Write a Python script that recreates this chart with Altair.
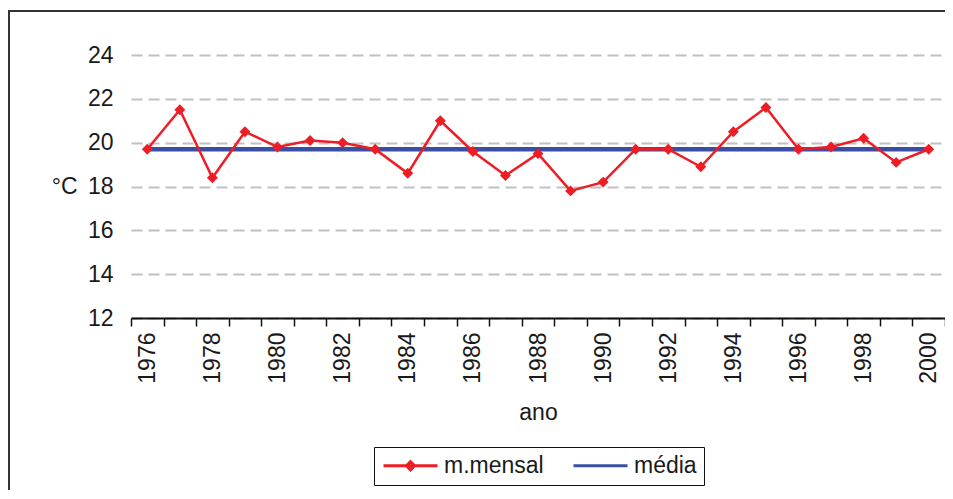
import altair as alt
import pandas as pd

anos = list(range(1976, 2001))
m_mensal = [19.7, 21.5, 18.4, 20.5, 19.8, 20.1, 20.0, 19.7, 18.6, 21.0,
            19.6, 18.5, 19.5, 17.8, 18.2, 19.7, 19.7, 18.9, 20.5, 21.6,
            19.7, 19.8, 20.2, 19.1, 19.7]
media = 19.7
series = ["m.mensal", "média"]
y_ticks = [12, 14, 16, 18, 20, 22, 24]

df_m = pd.DataFrame({"ano": anos, "valor": m_mensal, "serie": "m.mensal"})
df_a = pd.DataFrame({"ano": anos, "valor": [media] * len(anos), "serie": "média"})
df_leg = pd.DataFrame({"serie": series})

RED = "#ee1c25"
BLUE = "#3a4fa3"
FONT = "Liberation Sans"
TXT = "#1a1a1a"

W, H = 814, 263

x_enc = alt.X(
    "ano:O",
    scale=alt.Scale(type="band", paddingInner=0, paddingOuter=0, domain=anos),
    axis=alt.Axis(
        title="ano",
        labelAngle=270,
        labelAlign="right",
        labelBaseline="middle",
        labelExpr="datum.value % 2 == 0 ? datum.label : ''",
        tickBand="extent",
        tickSize=8,
        tickWidth=1.5,
        tickColor="#111",
        domainColor="#111",
        domainWidth=2,
        labelPadding=6,
        titlePadding=18,
        grid=False,
    ),
)
y_enc = alt.Y(
    "valor:Q",
    scale=alt.Scale(domain=[12, 24], nice=False, zero=False),
    axis=alt.Axis(
        title="°C",
        values=y_ticks,
        domain=False,
        ticks=False,
        labelPadding=18,
        grid=True,
        gridColor="#c0c0c0",
        gridDash=[11, 6],
        gridWidth=2,
        titleAngle=0,
        titleAlign="right",
        titleBaseline="middle",
        titleX=-54,
        titleY=H / 2,
    ),
)

frame_left = alt.Chart(df_leg.head(1)).mark_rule(color="#333", strokeWidth=2).encode(
    x=alt.value(-122), y=alt.value(-44), y2=alt.value(440)
)
frame_top = alt.Chart(df_leg.head(1)).mark_rule(color="#333", strokeWidth=2).encode(
    y=alt.value(-44), x=alt.value(-123), x2=alt.value(W + 10)
)

blue_line = alt.Chart(df_a).mark_line(color=BLUE, strokeWidth=4.5).encode(x=x_enc, y=y_enc)
red_line = alt.Chart(df_m).mark_line(color=RED, strokeWidth=2.5).encode(x=x_enc, y=y_enc)
red_pts = alt.Chart(df_m).mark_point(
    shape="diamond", filled=True, color=RED, size=120, opacity=1
).encode(x=x_enc, y=y_enc)

# legend symbol: size 324 -> unit = 9 px; line spans 0..54 px from entry start
leg = alt.Legend(
    title=None,
    orient="none",
    legendX=243,
    legendY=392,
    direction="horizontal",
    columns=2,
    symbolSize=324,
    symbolStrokeWidth=3,
    symbolOpacity=1,
    labelFont=FONT,
    labelFontSize=23,
    labelColor=TXT,
    labelOffset=40,
    columnPadding=23,
    padding=7,
    strokeColor="#111",
)
legend_layer = alt.Chart(df_leg).mark_point(
    filled=False, clip=True, strokeWidth=3, opacity=1
).encode(
    x=alt.value(0),
    y=alt.value(-2000),
    color=alt.Color("serie:N", scale=alt.Scale(domain=series, range=[RED, BLUE]), legend=leg),
    shape=alt.Shape(
        "serie:N",
        scale=alt.Scale(
            domain=series,
            range=[
                "M-1,0L5,0M2,-0.45L2.45,0L2,0.45L1.55,0Z",
                "M-1,0L5,0",
            ],
        ),
        legend=leg,
    ),
)

chart = (
    alt.layer(frame_left, frame_top, blue_line, red_line, red_pts, legend_layer)
    .properties(
        width=W,
        height=H,
        autosize=alt.AutoSizeParams(type="none"),
        padding={"left": 123, "top": 47, "right": 0, "bottom": 172},
    )
    .configure_view(stroke=None)
    .configure_axis(
        labelFont=FONT,
        labelFontSize=23,
        labelColor=TXT,
        titleFont=FONT,
        titleFontSize=23,
        titleFontWeight="normal",
        titleColor=TXT,
    )
)

chart.save("out.html", embed_options={"renderer": "svg", "actions": False})
